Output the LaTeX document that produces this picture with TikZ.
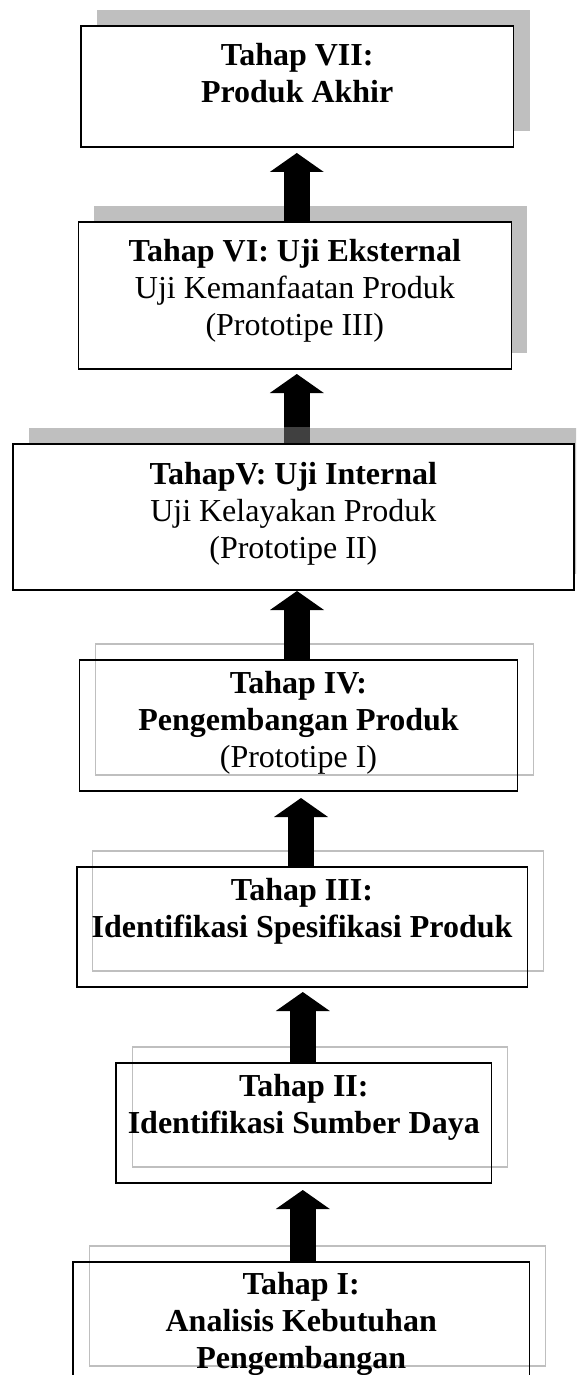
\documentclass[tikz,border=0pt]{standalone}
\usepackage{fontspec}
\setmainfont[Ligatures=CommonOff]{Liberation Serif}
\usetikzlibrary{arrows.meta}
\definecolor{shade}{HTML}{BFBFBF}
\definecolor{overlap}{HTML}{404040}
\begin{document}
\begin{tikzpicture}[x=1pt,y=-1pt,
  mainbox/.style={draw=black, line width=1.4pt, inner sep=0pt, outer sep=0pt, rectangle},
  solidbox/.style={mainbox, fill=white},
  shadowbox/.style={fill=shade, draw=none, inner sep=0pt, outer sep=0pt, rectangle},
  ghostbox/.style={draw=shade, line width=1.2pt, inner sep=0pt, outer sep=0pt, rectangle},
  stagetext/.style={anchor=north, align=center, inner sep=0pt, outer sep=0pt, font=\fontsize{32}{37}\selectfont},
  bigarrow/.style={line width=25.6pt, draw=black, -{Triangle[width=54pt 0 0, length=19pt 0 0, line width=0pt 0 0]}},
]
\clip (0,0) rectangle (576,1375);
\useasboundingbox (0,0) rectangle (576,1375);

% shadows and ghost outlines
\node[shadowbox, minimum width=432.8pt, minimum height=121pt] (shVII) at (313.2,70.5) {};
\node[shadowbox, minimum width=433.1pt, minimum height=147pt] (shVI) at (310.85,279.5) {};
\node[shadowbox, minimum width=560.9pt, minimum height=146pt] (shV) at (309.85,501) {};
\node[ghostbox, minimum width=437.6pt, minimum height=131pt] (ghIV) at (314.5,709.5) {};
\node[ghostbox, minimum width=450.4pt, minimum height=120pt] (ghIII) at (318,911) {};
\node[ghostbox, minimum width=375.4pt, minimum height=120pt] (ghII) at (319.8,1107) {};
\node[ghostbox, minimum width=456.3pt, minimum height=120pt] (ghI) at (317.25,1306) {};

% main boxes
\node[solidbox, minimum width=432.8pt, minimum height=121pt] (sVII) at (297.2,86.5) {};
\node[solidbox, minimum width=433.1pt, minimum height=147pt] (sVI) at (294.85,295.5) {};
\node[solidbox, minimum width=560.9pt, minimum height=146pt] (sV) at (293.35,517) {};
\node[mainbox, minimum width=437.6pt, minimum height=131pt] (sIV) at (298.5,725.5) {};
\node[mainbox, minimum width=450.4pt, minimum height=120pt] (sIII) at (302,927) {};
\node[mainbox, minimum width=375.4pt, minimum height=120pt] (sII) at (303.8,1123) {};
\node[mainbox, minimum width=456.3pt, minimum height=120pt] (sI) at (301.25,1322) {};

% arrows
\draw[bigarrow] ([xshift=1.95pt]sVI.north) -- ([xshift=-0.4pt,yshift=-6pt]sVII.south);
\draw[bigarrow] ([xshift=3.45pt]sV.north) -- ([xshift=1.95pt,yshift=-5pt]sVI.south);
\draw[bigarrow] ([xshift=-1.5pt]sIV.north) -- ([xshift=3.65pt,yshift=-1pt]sV.south);
\draw[bigarrow] ([xshift=-1pt]sIII.north) -- ([xshift=2.5pt,yshift=-7pt]sIV.south);
\draw[bigarrow] ([xshift=-1pt]sII.north) -- ([xshift=0.8pt,yshift=-5pt]sIII.south);
\draw[bigarrow] ([xshift=1.55pt]sI.north) -- ([xshift=-1pt,yshift=-7pt]sII.south);

% shaft seen through the shadow of stage V
\fill[overlap] ([xshift=-9.35pt,yshift=0.7pt]sV.north) rectangle ([xshift=16.25pt,yshift=17pt]sV.north);

% texts
\node[stagetext] (tVII) at ([yshift=-13.7pt]sVII.north) {\strut\textbf{Tahap VII:}\\\textbf{Produk Akhir}};
\node[stagetext] (tVI) at ([yshift=-13.8pt]sVI.north) {\strut\textbf{Tahap VI: Uji Eksternal}\\Uji Kemanfaatan Produk\\(Prototipe III)};
\node[stagetext] (tV) at ([yshift=-14.1pt]sV.north) {\strut\textbf{TahapV: Uji Internal}\\Uji Kelayakan Produk\\(Prototipe II)};
\node[stagetext] (tIV) at ([yshift=-7.4pt]sIV.north) {\strut\textbf{Tahap IV:}\\\textbf{Pengembangan Produk}\\(Prototipe I)};
\node[stagetext] (tIII) at ([yshift=-7.1pt]sIII.north) {\strut\textbf{Tahap III:}\\\textbf{Identifikasi Spesifikasi Produk}};
\node[stagetext] (tII) at ([yshift=-7.1pt]sII.north) {\strut\textbf{Tahap II:}\\\textbf{Identifikasi Sumber Daya}};
\node[stagetext] (tI) at ([yshift=-6.1pt]sI.north) {\strut\textbf{Tahap I:}\\\textbf{Analisis Kebutuhan}\\\textbf{Pengembangan}};
\end{tikzpicture}
\end{document}
